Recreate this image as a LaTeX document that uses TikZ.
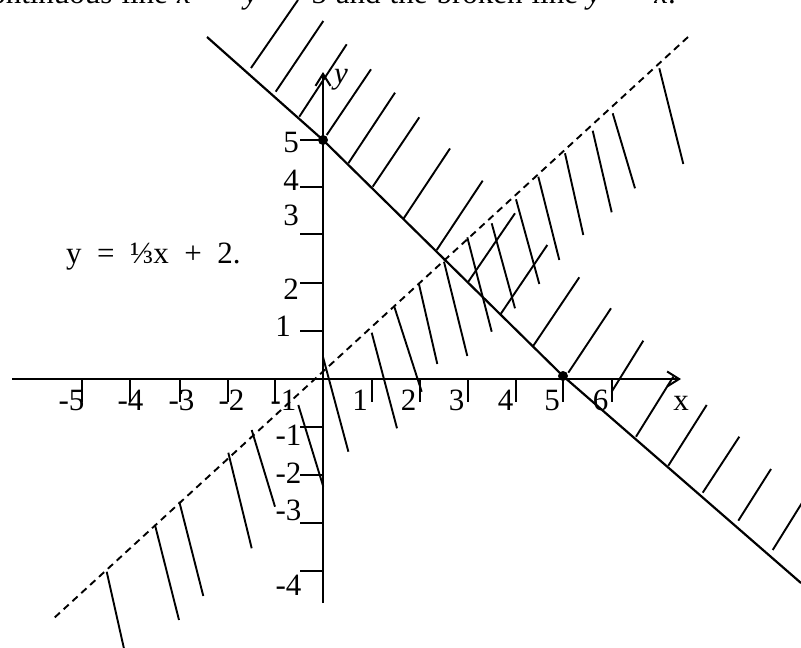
\documentclass[tikz,border=0pt]{standalone}
\usepackage{fontspec}
\setmainfont{Liberation Serif}
\usetikzlibrary{arrows.meta}
\begin{document}
\begin{tikzpicture}[x=1pt,y=-1pt,
  axis/.style={line width=2.6pt},
  tickmark/.style={line width=1.8pt},
  boundary/.style={line width=2.2pt},
  brokenline/.style={line width=1.9pt,dash pattern=on 7pt off 5pt},
  hatch/.style={line width=1.9pt},
  lab/.style={inner sep=0pt,anchor=base,font=\fontsize{31}{36}\selectfont},
  arr/.style={-{Straight Barb[length=12pt,width=15pt,line width=2pt]}}]
\useasboundingbox (0,0) rectangle (801,648);
\clip (0,0) rectangle (801,648);
% title (partly cut off at the top)
\node[lab,anchor=base east] (title) at (676,3.5) {\spaceskip=0.29em continuous line \textit{x}\ \ +\ \ \textit{y}\ \ =\ \ 5 and the broken line \textit{y}\ \ =\ \ \textit{x}.};
% axes
\coordinate (xs) at (12,379);
\coordinate (xe) at (681,379);
\coordinate (ys) at (323,603);
\coordinate (ye) at (323,72);
\draw[axis,arr] (xs) -- (xe);
\draw[axis,arr] (ys) -- (ye);
\node[lab,font=\fontsize{31}{36}\selectfont\itshape] (ylab) at (341,83) {y};
\node[lab] (xlab) at (681,410) {x};
% y ticks
\foreach \yy in {140,187,234.3,282.7,331,426.7,475,522.7,571}
  \draw[tickmark] (300,\yy) -- (323,\yy);
% x ticks
\foreach \xx in {81.7,130,180,228.3,275,371.7,420,468.3,516,563.3,611.7}
  \draw[tickmark] (\xx,379) -- (\xx,402);
% y labels
\node[lab] (y5) at (291,152.5) {5};
\node[lab] (y4) at (291,190) {4};
\node[lab] (y3) at (291,225) {3};
\node[lab] (y2) at (291,299) {2};
\node[lab] (y1) at (283,336) {1};
\node[lab] (ym1) at (288.5,445) {-1};
\node[lab] (ym2) at (288.5,483.5) {-2};
\node[lab] (ym3) at (288.5,520) {-3};
\node[lab] (ym4) at (288.5,595) {-4};
% x labels
\node[lab] (xm5) at (71.5,410) {-5};
\node[lab] (xm4) at (130.5,410) {-4};
\node[lab] (xm3) at (181.5,410) {-3};
\node[lab] (xm2) at (231.5,410) {-2};
\node[lab] (xm1) at (283.5,410) {-1};
\node[lab] (x1) at (360,410) {1};
\node[lab] (x2) at (408.5,410) {2};
\node[lab] (x3) at (456.5,410) {3};
\node[lab] (x4) at (505.5,410) {4};
\node[lab] (x5) at (552,410) {5};
\node[lab] (x6) at (600.5,410) {6};
% equation text
\node[lab,anchor=base west] (eq) at (66,263) {y\ \ =\ \ ⅓x\ \ +\ \ 2.};
% continuous line x + y = 5
\coordinate (s0) at (207,37);
\coordinate (A) at (323,140);
\coordinate (B) at (563,376);
\coordinate (s1) at (801,583);
\draw[boundary] (s0) -- (A) -- (B) -- (s1);
% broken line y = x
\coordinate (d0) at (688,37);
\coordinate (d1) at (53,619);
\draw[brokenline] (d0) -- (d1);
% hatching of the continuous line
\foreach \ax/\ay/\bx/\by in {251/68/298/0, 275.7/91.7/323.3/21, 299.3/116.7/346.7/44.3,
  326.7/135/371/69.3, 348.3/163.3/395/92.7, 372.7/186.7/419.3/117.3, 403.3/219/450/148.5,
  436.7/250/482.7/180.7, 468.3/281.7/515/213.3, 500/315/547.3/245, 532.7/346.7/579.3/277.3,
  568.3/372.7/611/308.3, 611.7/391.7/643.3/340.7, 636/436.7/673.3/376.7, 668.3/465.7/706.7/405,
  702.7/492.7/739.3/436.7, 738.3/520.7/771/469, 772.7/550/810/490}
  \draw[hatch] (\ax,\ay) -- (\bx,\by);
% hatching of the broken line
\foreach \ax/\ay/\bx/\by in {659.3/68.3/683.3/164, 612.7/113.3/635/188.3, 592.7/130.7/611.7/212.3,
  565/153.3/583.3/235, 538.3/176.7/559.3/260, 516/199.3/539.3/284, 491.7/223.3/515/308.3,
  467.3/237.3/491.7/331.7, 444/261.7/467.3/356, 419/284.3/437.3/364, 394.3/306.7/421.7/391.7,
  371.7/332.7/397/428.3, 323/357/348.4/451.7, 298.3/405/323.3/486.7, 251.7/430/275/506.7,
  228.3/452.7/251.7/548.3, 179.3/501.7/203.3/596, 155/525/179/620, 106.7/571.7/124.3/650}
  \draw[hatch] (\ax,\ay) -- (\bx,\by);
% points
\fill (A) circle (5);
\fill (B) circle (5);
\end{tikzpicture}
\end{document}
